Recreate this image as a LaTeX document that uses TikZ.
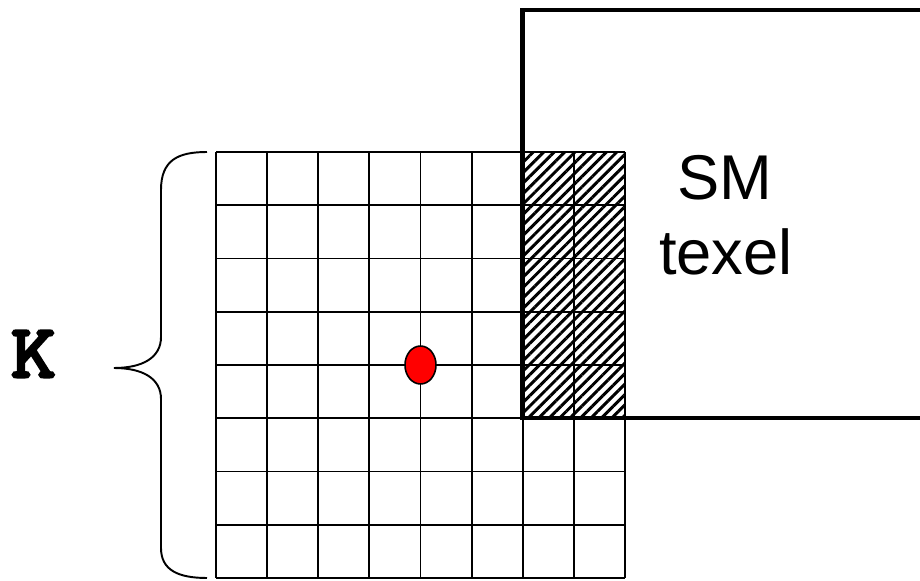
\documentclass[tikz,border=0pt]{standalone}
\usepackage{fontspec}
\setmainfont{Liberation Sans}
\newfontfamily\kfont{Latin Modern Mono}[FakeBold=4]
\usetikzlibrary{patterns.meta}
\begin{document}
\begin{tikzpicture}[x=0.2mm,y=-0.2mm,
    cell line/.style={line width=1.1pt},
    texel box/.style={line width=2.8pt},
    hatched/.style={pattern={Lines[angle=45,distance=4.2pt,line width=1.7pt]}},
    sample dot/.style={fill=red,draw=black,line width=0.9pt},
    big text/.style={anchor=base,inner sep=0pt,font=\fontsize{36}{43}\selectfont}]
  \useasboundingbox (0,0) rectangle (920,581);
  \clip (0,0) rectangle (920,581);
  % overlap with the texel
  \fill[hatched] (522.75,152) rectangle (625,418.25);
  % kernel grid
  \foreach \i in {0,...,8} {
    \draw[cell line] (216+51.125*\i,152) -- (216+51.125*\i,578);
    \draw[cell line] (216,152+53.25*\i) -- (625,152+53.25*\i);
  }
  % shadow map texel
  \draw[texel box] (960,10) -- (522.75,10) -- (522.75,418) -- (960,418);
  \node (sm) at (724.5,200) [big text] {SM};
  \node (texel) at (726,275) [big text] {texel};
  % sample point
  \draw[sample dot] (420.5,365) ellipse (15.5 and 19);
  % kernel size
  \draw[line width=1.1pt] (207,152) .. controls (178,152) and (161,160) .. (161,190)
    -- (161,337) .. controls (161,358) and (142,368) .. (114,368)
    .. controls (142,368) and (161,378) .. (161,399)
    -- (161,548) .. controls (161,570) and (178,578) .. (207,578);
  \node (k) at (33.5,377) [anchor=base,inner sep=0pt,xscale=1.15,font=\kfont\fontsize{43}{43}\selectfont] {K};
\end{tikzpicture}
\end{document}
